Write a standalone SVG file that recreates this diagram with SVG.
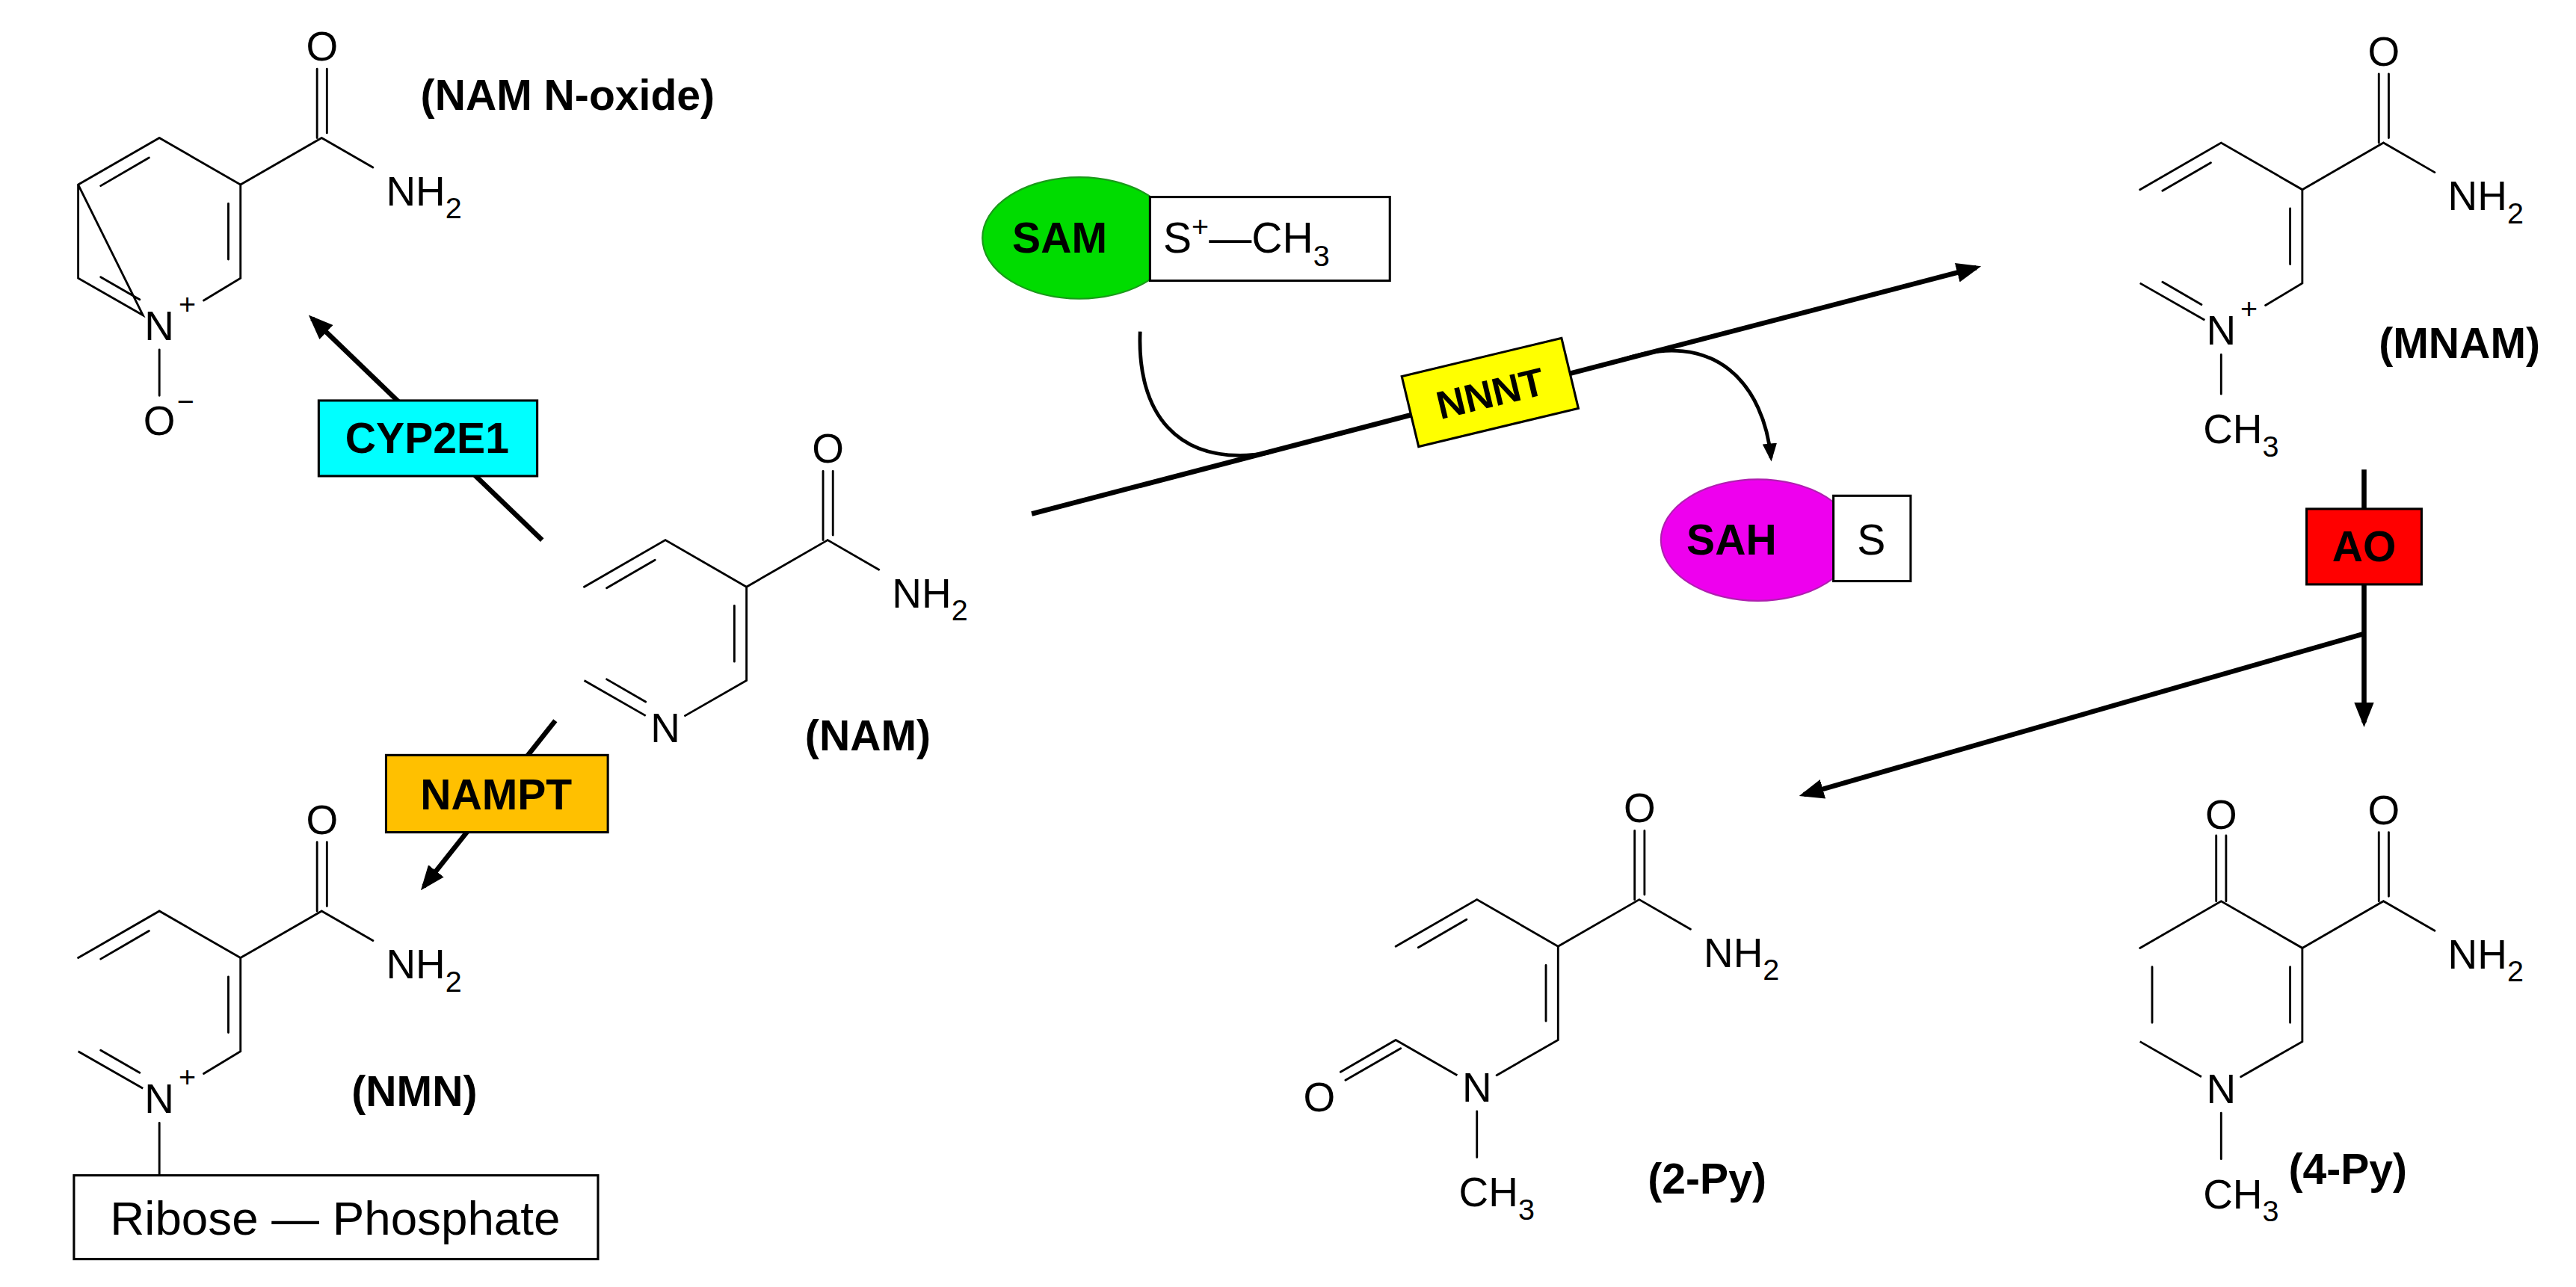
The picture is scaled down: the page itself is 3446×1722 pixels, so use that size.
<svg xmlns="http://www.w3.org/2000/svg" width="3446" height="1722" viewBox="0 0 3446 1722">
<defs>
<style>
.b{stroke:#000;stroke-width:1.3;fill:none;stroke-linecap:round}
.a{stroke:#000;stroke-width:3;fill:none}
.c{stroke:#000;stroke-width:2.2;fill:none}
.t{font-family:"Liberation Sans",Arial,sans-serif;font-size:25px;fill:#000}
.s{font-family:"Liberation Sans",Arial,sans-serif;font-size:18px;fill:#000}
.l{font-family:"Liberation Sans",Arial,sans-serif;font-size:26px;font-weight:bold;fill:#000}
.bx{stroke:#000;stroke-width:1.4}
</style>
<marker id="ah" viewBox="0 0 10 8" refX="8" refY="4" markerWidth="5" markerHeight="4" orient="auto" markerUnits="strokeWidth">
<path d="M0,0 L10,4 L0,8 z" fill="#000"/>
</marker>
<g id="amide">
<path class="b" d="M49.4,-28.5 L98.8,-57 M96,-57 L96,-99 M102,-60 L102,-99 M98.8,-57 L130,-39"/>
<text class="t" x="99" y="-104" text-anchor="middle">O</text>
<text class="t" x="138" y="-16">NH<tspan class="s" dy="8">2</tspan></text>
</g>
</defs>
<rect width="3446" height="1722" fill="#fff"/>
<g transform="scale(2.1977,2.1964)">

<g id="nam-n-oxide" transform="translate(97,141)">
<path class="b" d="M0,-57 L49.4,-28.5 L49.4,28.5 L27,42 M-10,51 L-49.4,28.5 L-49.4,-28.5 Z M-6.3,-44.9 L-35.7,-27.8 M42,-17 L42,17 M-35.7,27.8 L-12,41.5 M0,72 L0,100"/>
<path class="b" d="M-49.4,-28.5 L0,-57"/>
<use href="#amide"/>
<text class="t" x="0" y="66" text-anchor="middle">N</text>
<text class="s" x="17" y="50" text-anchor="middle">+</text>
<text class="t" x="0" y="124" text-anchor="middle">O</text>
<text class="s" x="16" y="110" text-anchor="middle">−</text>
<text class="l" x="159" y="-74">(NAM N-oxide)</text>
</g>

<g id="nam" transform="translate(405,386)">
<path class="b" d="M-49.4,-28.5 L0,-57 L49.4,-28.5 L49.4,28.5 L12,50 M-12,50 L-49.4,28.5 Z M-6.3,-44.9 L-35.7,-27.8 M42,-17 L42,17 M-35.7,27.8 L-12,41.5"/>
<use href="#amide"/>
<text class="t" x="0" y="66" text-anchor="middle">N</text>
<text class="l" x="85" y="71">(NAM)</text>
</g>

<g id="nmn" transform="translate(97,612)">
<path class="b" d="M-49.4,-28.5 L0,-57 L49.4,-28.5 L49.4,28.5 L27,42 M-10,51 L-49.4,28.5 Z M-6.3,-44.9 L-35.7,-27.8 M42,-17 L42,17 M-35.7,27.8 L-12,41.5 M0,72 L0,104"/>
<use href="#amide"/>
<text class="t" x="0" y="66" text-anchor="middle">N</text>
<text class="s" x="17" y="50" text-anchor="middle">+</text>
<text class="l" x="117" y="62">(NMN)</text>
<rect x="-52" y="104" width="319" height="51" fill="#fff" class="bx"/>
<text class="t" x="107" y="140" text-anchor="middle" style="font-size:29px">Ribose — Phosphate</text>
</g>

<g id="mnam" transform="translate(1352,144)">
<path class="b" d="M-49.4,-28.5 L0,-57 L49.4,-28.5 L49.4,28.5 L27,42 M-10,51 L-49.4,28.5 Z M-6.3,-44.9 L-35.7,-27.8 M42,-17 L42,17 M-35.7,27.8 L-12,41.5 M0,72 L0,96"/>
<use href="#amide"/>
<text class="t" x="0" y="66" text-anchor="middle">N</text>
<text class="s" x="17" y="50" text-anchor="middle">+</text>
<text class="t" x="-11" y="126">CH<tspan class="s" dy="8">3</tspan></text>
<text class="l" x="96" y="74">(MNAM)</text>
</g>

<g id="py2" transform="translate(899,605)">
<path class="b" d="M-49.4,-28.5 L0,-57 L49.4,-28.5 L49.4,28.5 L12,50 M-12,50 L-49.4,28.5 Z M-6.3,-44.9 L-35.7,-27.8 M42,-17 L42,17 M-49.4,28.5 L-83,48 M-46.4,33.7 L-80,53 M0,72 L0,100"/>
<use href="#amide"/>
<text class="t" x="0" y="66" text-anchor="middle">N</text>
<text class="t" x="-96" y="72" text-anchor="middle">O</text>
<text class="t" x="-11" y="130">CH<tspan class="s" dy="8">3</tspan></text>
<text class="l" x="104" y="122">(2-Py)</text>
</g>

<g id="py4" transform="translate(1352,606)">
<path class="b" d="M-49.4,-28.5 L0,-57 L49.4,-28.5 L49.4,28.5 L12,50 M-12,50 L-49.4,28.5 Z M-42,-17 L-42,17 M42,-17 L42,17 M-3,-57 L-3,-97 M3,-57 L3,-97 M0,72 L0,100"/>
<use href="#amide"/>
<text class="t" x="0" y="-101" text-anchor="middle">O</text>
<text class="t" x="0" y="66" text-anchor="middle">N</text>
<text class="t" x="-11" y="130">CH<tspan class="s" dy="8">3</tspan></text>
<text class="l" x="41" y="115">(4-Py)</text>
</g>

<g id="connectors">
<path class="a" d="M330,329 L190,194" marker-end="url(#ah)"/>
<path class="a" d="M338,439 L258,540" marker-end="url(#ah)"/>
<path class="a" d="M628,313 L1203,163" marker-end="url(#ah)"/>
<path class="c" d="M694,202 C692,250 715,285 772,276"/>
<path class="c" d="M985,220 C1045,198 1074,236 1078,279" marker-end="url(#ah)"/>
<path class="a" d="M1439,286 L1439,440" marker-end="url(#ah)"/>
<path class="a" d="M1439,386 L1098,484" marker-end="url(#ah)"/>
</g>

<g id="sam">
<ellipse cx="657" cy="145" rx="59" ry="37" fill="#00dc00" stroke="#1a9a1a" stroke-width="1"/>
<rect x="700" y="120" width="146" height="51" fill="#fff" class="bx"/>
<text class="l" x="645" y="154" text-anchor="middle">SAM</text>
<text class="t" x="708" y="154" style="font-size:26px">S<tspan class="s" dy="-10">+</tspan><tspan dy="10">—CH</tspan><tspan class="s" dy="8">3</tspan></text>
</g>

<g id="sah">
<ellipse cx="1070" cy="329" rx="59" ry="37" fill="#ee00ee" stroke="#b020b0" stroke-width="1"/>
<rect x="1116" y="302" width="47" height="52" fill="#fff" class="bx"/>
<text class="l" x="1054" y="338" text-anchor="middle">SAH</text>
<text class="t" x="1139" y="338" text-anchor="middle" style="font-size:26px">S</text>
</g>

<g id="cyp2e1">
<rect x="194" y="244" width="133" height="46" fill="#00ffff" class="bx"/>
<text class="l" x="260" y="276" text-anchor="middle">CYP2E1</text>
</g>
<g id="nampt">
<rect x="235" y="460" width="135" height="47" fill="#ffc000" class="bx"/>
<text class="l" x="302" y="493" text-anchor="middle">NAMPT</text>
</g>
<g id="nnnt" transform="translate(907,239) rotate(-13.5)">
<rect x="-50" y="-22" width="100" height="44" fill="#ffff00" class="bx"/>
<text class="l" x="0" y="9" text-anchor="middle" style="font-size:24px">NNNT</text>
</g>
<g id="ao">
<rect x="1404" y="310" width="70" height="46" fill="#ff0000" class="bx"/>
<text class="l" x="1439" y="342" text-anchor="middle">AO</text>
</g>
</g>
</svg>
